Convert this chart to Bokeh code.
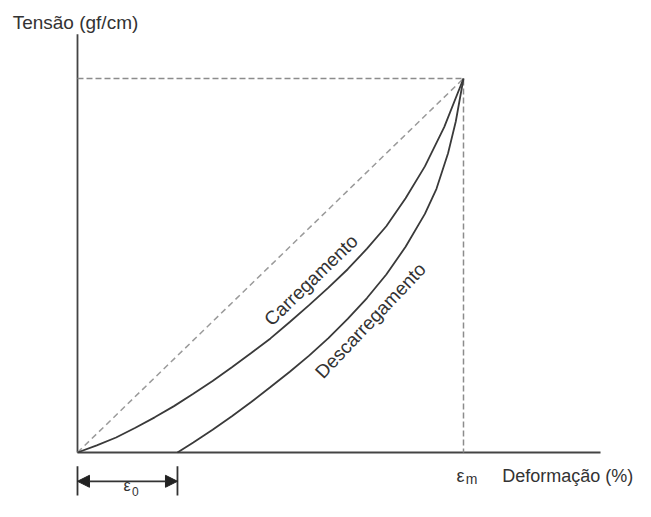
import math
from bokeh.plotting import figure
from bokeh.models import Arrow, NormalHead
from bokeh.core.properties import value
from bokeh.embed import file_html
from bokeh.resources import INLINE

# ---- data (normalised: strain / eps_m, stress / sigma_m) ----
eps_m = 1.0
sig_m = 1.0
eps_0 = 0.259

load_strain = [0.0, 0.05, 0.10, 0.15, 0.20, 0.25, 0.30, 0.35, 0.40, 0.45, 0.50, 0.55,
               0.60, 0.65, 0.70, 0.75, 0.80, 0.85, 0.90, 0.95, 1.0]
load_stress = [0.0, 0.019, 0.040, 0.066, 0.094, 0.124, 0.157, 0.191, 0.228, 0.266, 0.305, 0.349,
               0.394, 0.441, 0.490, 0.545, 0.605, 0.680, 0.765, 0.870, 1.0]

unload_strain = [0.259, 0.30, 0.35, 0.40, 0.45, 0.50, 0.55, 0.60, 0.65, 0.70, 0.75, 0.80,
                 0.85, 0.90, 0.93, 0.96, 0.98, 1.0]
unload_stress = [0.0, 0.027, 0.061, 0.097, 0.135, 0.175, 0.216, 0.259, 0.306, 0.357, 0.413, 0.476,
                 0.550, 0.638, 0.705, 0.800, 0.885, 1.0]

y_label = "Tensão (gf/cm)"
x_label = "Deformação (%)"
load_label = "Carregamento"
unload_label = "Descarregamento"

x_axis_end = 1.355
y_axis_top = 1.118

FONT = value("Liberation Sans")
TXT = "#333333"

W, H = 635, 501
p = figure(width=W, height=H, x_range=(-0.19948, 1.44560), y_range=(-0.13102, 1.20856),
           output_backend="svg", toolbar_location=None,
           x_axis_type=None, y_axis_type=None, min_border=0)
p.outline_line_color = None
p.background_fill_color = "white"
p.border_fill_color = "white"

# axes
p.segment(x0=[0, 0], y0=[0, 0], x1=[0, x_axis_end], y1=[y_axis_top, 0],
          line_color="#444444", line_width=1.8)

# dashed reference lines
p.line([0, eps_m, eps_m], [sig_m, sig_m, 0], line_color="#8c8c8c", line_width=1.5, line_dash="6 3")
p.line([0, eps_m], [0, sig_m], line_color="#9a9a9a", line_width=1.5, line_dash="6 4")

# curves
p.line(load_strain, load_stress, line_color="#3a3a3a", line_width=1.8)
p.line(unload_strain, unload_stress, line_color="#3a3a3a", line_width=1.8)

# eps_0 dimension arrow
ya = -0.077
p.segment(x0=[0, eps_0], y0=[-0.037, -0.037], x1=[0, eps_0], y1=[-0.115, -0.115],
          line_color="#333333", line_width=1.8)
p.add_layout(Arrow(start=NormalHead(size=12, fill_color="#222222", line_color="#222222"),
                   end=NormalHead(size=12, fill_color="#222222", line_color="#222222"),
                   x_start=0, y_start=ya, x_end=eps_0, y_end=ya,
                   line_color="#333333", line_width=1.8))

# axis titles
p.text(x=[-0.168], y=[1.150], text=[y_label], text_font=FONT, text_font_size="19px",
       text_color=TXT, text_align="left", text_baseline="alphabetic")
p.text(x=[1.440], y=[-0.064], text=[x_label], text_font=FONT, text_font_size="18px",
       text_color=TXT, text_align="right", text_baseline="alphabetic")

# curve labels
p.text(x=[0.605], y=[0.461], text=[load_label], angle=math.radians(44),
       text_font=FONT, text_font_size="19px", text_color=TXT,
       text_align="center", text_baseline="middle")
p.text(x=[0.759], y=[0.353], text=[unload_label], angle=math.radians(46.5),
       text_font=FONT, text_font_size="19px", text_color=TXT,
       text_align="center", text_baseline="middle")

# epsilon labels
p.text(x=[eps_m - 0.018], y=[-0.063], text=["ε"], text_font=FONT, text_font_size="18px",
       text_color=TXT, text_align="left", text_baseline="alphabetic")
p.text(x=[eps_m + 0.006], y=[-0.070], text=["m"], text_font=FONT, text_font_size="14px",
       text_color=TXT, text_align="left", text_baseline="alphabetic")
p.text(x=[0.119], y=[-0.110], text=["ε"], text_font=FONT, text_font_size="16px",
       text_color=TXT, text_align="left", text_baseline="bottom")
p.text(x=[0.141], y=[-0.116], text=["0"], text_font=FONT, text_font_size="12px",
       text_color=TXT, text_align="left", text_baseline="bottom")

open("out.html", "w").write(file_html(p, INLINE))
